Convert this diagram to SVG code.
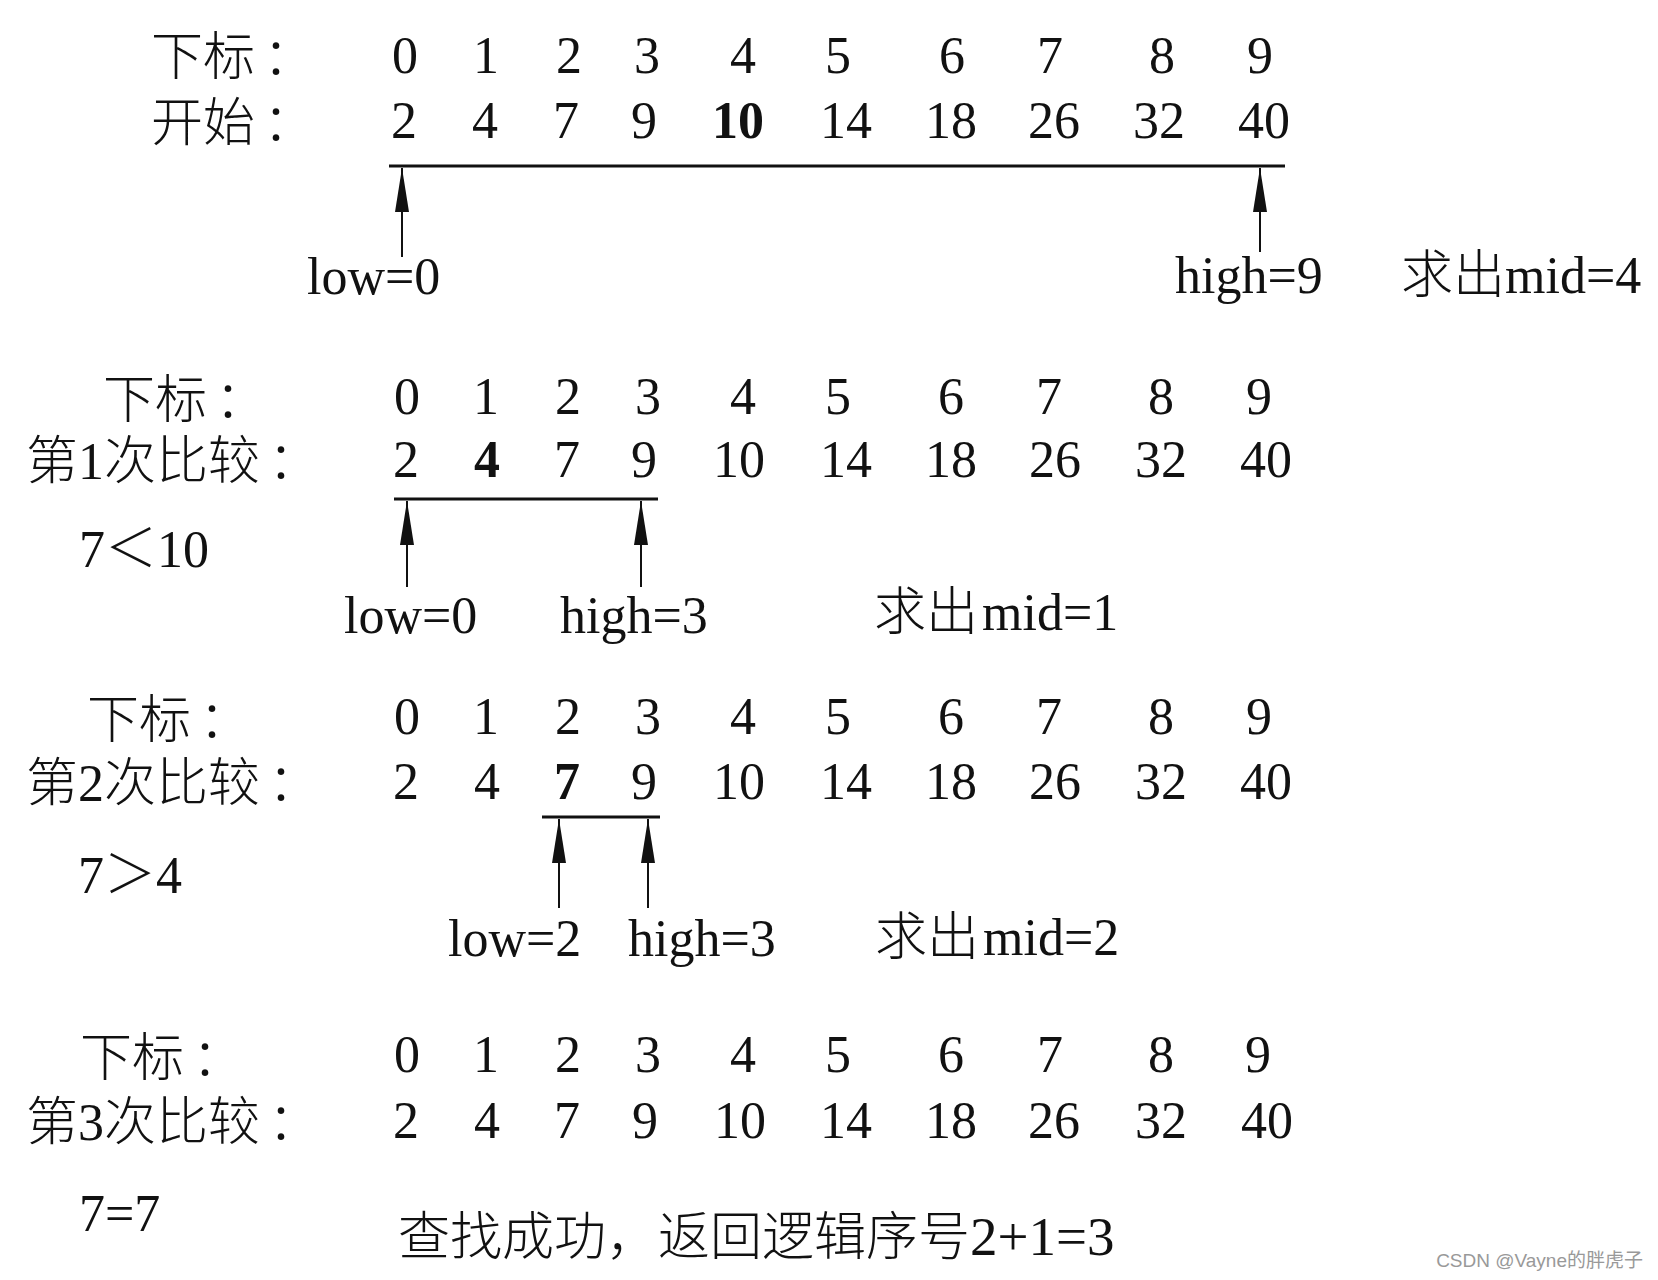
<svg xmlns="http://www.w3.org/2000/svg" width="1658" height="1280" viewBox="0 0 1658 1280">
<style>
  text { fill: #111; font-family: "Liberation Serif", "Noto Sans CJK SC", serif; font-size: 52px; }
  .n { text-anchor: middle; }
  .b { font-weight: bold; }
  .lt { font-weight: 300; }
  .bar { stroke: #111; stroke-width: 3; fill: none; }
  .arr { stroke: #111; stroke-width: 2; fill: none; marker-end: url(#head); }
  .wm { fill: #999; font-family: "Liberation Sans", "Noto Sans CJK SC", sans-serif; font-size: 19px; text-anchor: end; }
</style>
<defs>
  <marker id="head" viewBox="0 0 44 14" refX="44" refY="7" markerWidth="44" markerHeight="14" markerUnits="userSpaceOnUse" orient="auto">
    <path d="M0,0 L44,7 L0,14 z" fill="#111"/>
  </marker>
</defs>
<rect width="1658" height="1280" fill="#fff"/>

<g id="step0">
  <text class="lt" x="151" y="75">下标<tspan dx="8">：</tspan></text>
  <text class="lt" x="151" y="141">开始<tspan dx="8">：</tspan></text>
  <g class="idx">
    <text class="n" x="405" y="73">0</text><text class="n" x="486" y="73">1</text><text class="n" x="569" y="73">2</text><text class="n" x="647" y="73">3</text><text class="n" x="743" y="73">4</text><text class="n" x="838" y="73">5</text><text class="n" x="952" y="73">6</text><text class="n" x="1050" y="73">7</text><text class="n" x="1162" y="73">8</text><text class="n" x="1260" y="73">9</text>
  </g>
  <g class="val">
    <text class="n" x="404" y="138">2</text><text class="n" x="485" y="138">4</text><text class="n" x="566" y="138">7</text><text class="n" x="644" y="138">9</text><text class="n b" x="738" y="138">10</text><text class="n" x="846" y="138">14</text><text class="n" x="951" y="138">18</text><text class="n" x="1054" y="138">26</text><text class="n" x="1159" y="138">32</text><text class="n" x="1264" y="138">40</text>
  </g>
  <text x="307" y="294">low=0</text>
  <text x="1175" y="293">high=9</text>
  <text class="lt" x="1401" y="293">求出mid=4</text>
</g>

<g id="step1">
  <text class="lt" x="103" y="418">下标<tspan dx="8">：</tspan></text>
  <text class="lt" x="26" y="479">第1次比较<tspan dx="8">：</tspan></text>
  <g class="idx">
    <text class="n" x="407" y="414">0</text><text class="n" x="486" y="414">1</text><text class="n" x="568" y="414">2</text><text class="n" x="648" y="414">3</text><text class="n" x="743" y="414">4</text><text class="n" x="838" y="414">5</text><text class="n" x="951" y="414">6</text><text class="n" x="1049" y="414">7</text><text class="n" x="1161" y="414">8</text><text class="n" x="1259" y="414">9</text>
  </g>
  <g class="val">
    <text class="n" x="406" y="477">2</text><text class="n b" x="487" y="477">4</text><text class="n" x="567" y="477">7</text><text class="n" x="644" y="477">9</text><text class="n" x="739" y="477">10</text><text class="n" x="846" y="477">14</text><text class="n" x="951" y="477">18</text><text class="n" x="1055" y="477">26</text><text class="n" x="1161" y="477">32</text><text class="n" x="1266" y="477">40</text>
  </g>
  <text class="lt" x="79" y="567">7＜10</text>
  <text x="344" y="633">low=0</text>
  <text x="560" y="633">high=3</text>
  <text class="lt" x="874" y="630">求出<tspan dx="4">mid=1</tspan></text>
</g>

<g id="step2">
  <text class="lt" x="87" y="738">下标<tspan dx="8">：</tspan></text>
  <text class="lt" x="26" y="801">第2次比较<tspan dx="8">：</tspan></text>
  <g class="idx">
    <text class="n" x="407" y="734">0</text><text class="n" x="486" y="734">1</text><text class="n" x="568" y="734">2</text><text class="n" x="648" y="734">3</text><text class="n" x="743" y="734">4</text><text class="n" x="838" y="734">5</text><text class="n" x="951" y="734">6</text><text class="n" x="1049" y="734">7</text><text class="n" x="1161" y="734">8</text><text class="n" x="1259" y="734">9</text>
  </g>
  <g class="val">
    <text class="n" x="406" y="799">2</text><text class="n" x="487" y="799">4</text><text class="n b" x="567" y="799">7</text><text class="n" x="644" y="799">9</text><text class="n" x="739" y="799">10</text><text class="n" x="846" y="799">14</text><text class="n" x="951" y="799">18</text><text class="n" x="1055" y="799">26</text><text class="n" x="1161" y="799">32</text><text class="n" x="1266" y="799">40</text>
  </g>
  <text class="lt" x="78" y="893">7＞4</text>
  <text x="448" y="956">low=2</text>
  <text x="628" y="956">high=3</text>
  <text class="lt" x="875" y="955">求出<tspan dx="4">mid=2</tspan></text>
</g>

<g id="step3">
  <text class="lt" x="80" y="1076">下标<tspan dx="8">：</tspan></text>
  <text class="lt" x="26" y="1140">第3次比较<tspan dx="8">：</tspan></text>
  <g class="idx">
    <text class="n" x="407" y="1072">0</text><text class="n" x="486" y="1072">1</text><text class="n" x="568" y="1072">2</text><text class="n" x="648" y="1072">3</text><text class="n" x="743" y="1072">4</text><text class="n" x="838" y="1072">5</text><text class="n" x="951" y="1072">6</text><text class="n" x="1050" y="1072">7</text><text class="n" x="1161" y="1072">8</text><text class="n" x="1258" y="1072">9</text>
  </g>
  <g class="val">
    <text class="n" x="406" y="1138">2</text><text class="n" x="487" y="1138">4</text><text class="n" x="567" y="1138">7</text><text class="n" x="645" y="1138">9</text><text class="n" x="740" y="1138">10</text><text class="n" x="846" y="1138">14</text><text class="n" x="951" y="1138">18</text><text class="n" x="1054" y="1138">26</text><text class="n" x="1161" y="1138">32</text><text class="n" x="1267" y="1138">40</text>
  </g>
  <text x="79" y="1231">7=7</text>
  <text class="lt" x="398" y="1255">查找成功，返回逻辑序号<tspan font-size="55">2+1=3</tspan></text>
</g>

<g id="connectors">
  <line class="bar" x1="389" y1="166" x2="1285" y2="166"/>
  <line class="arr" x1="402" y1="257" x2="402" y2="168"/>
  <line class="arr" x1="1260" y1="252" x2="1260" y2="168"/>
  <line class="bar" x1="394" y1="499" x2="658" y2="499" stroke-width="4"/>
  <line class="arr" x1="407" y1="587" x2="407" y2="501"/>
  <line class="arr" x1="641" y1="587" x2="641" y2="501"/>
  <line class="bar" x1="542" y1="817" x2="660" y2="817"/>
  <line class="arr" x1="559" y1="908" x2="559" y2="819"/>
  <line class="arr" x1="648" y1="908" x2="648" y2="819"/>
</g>

<text class="wm" x="1643" y="1267">CSDN @Vayne的胖虎子</text>
</svg>
